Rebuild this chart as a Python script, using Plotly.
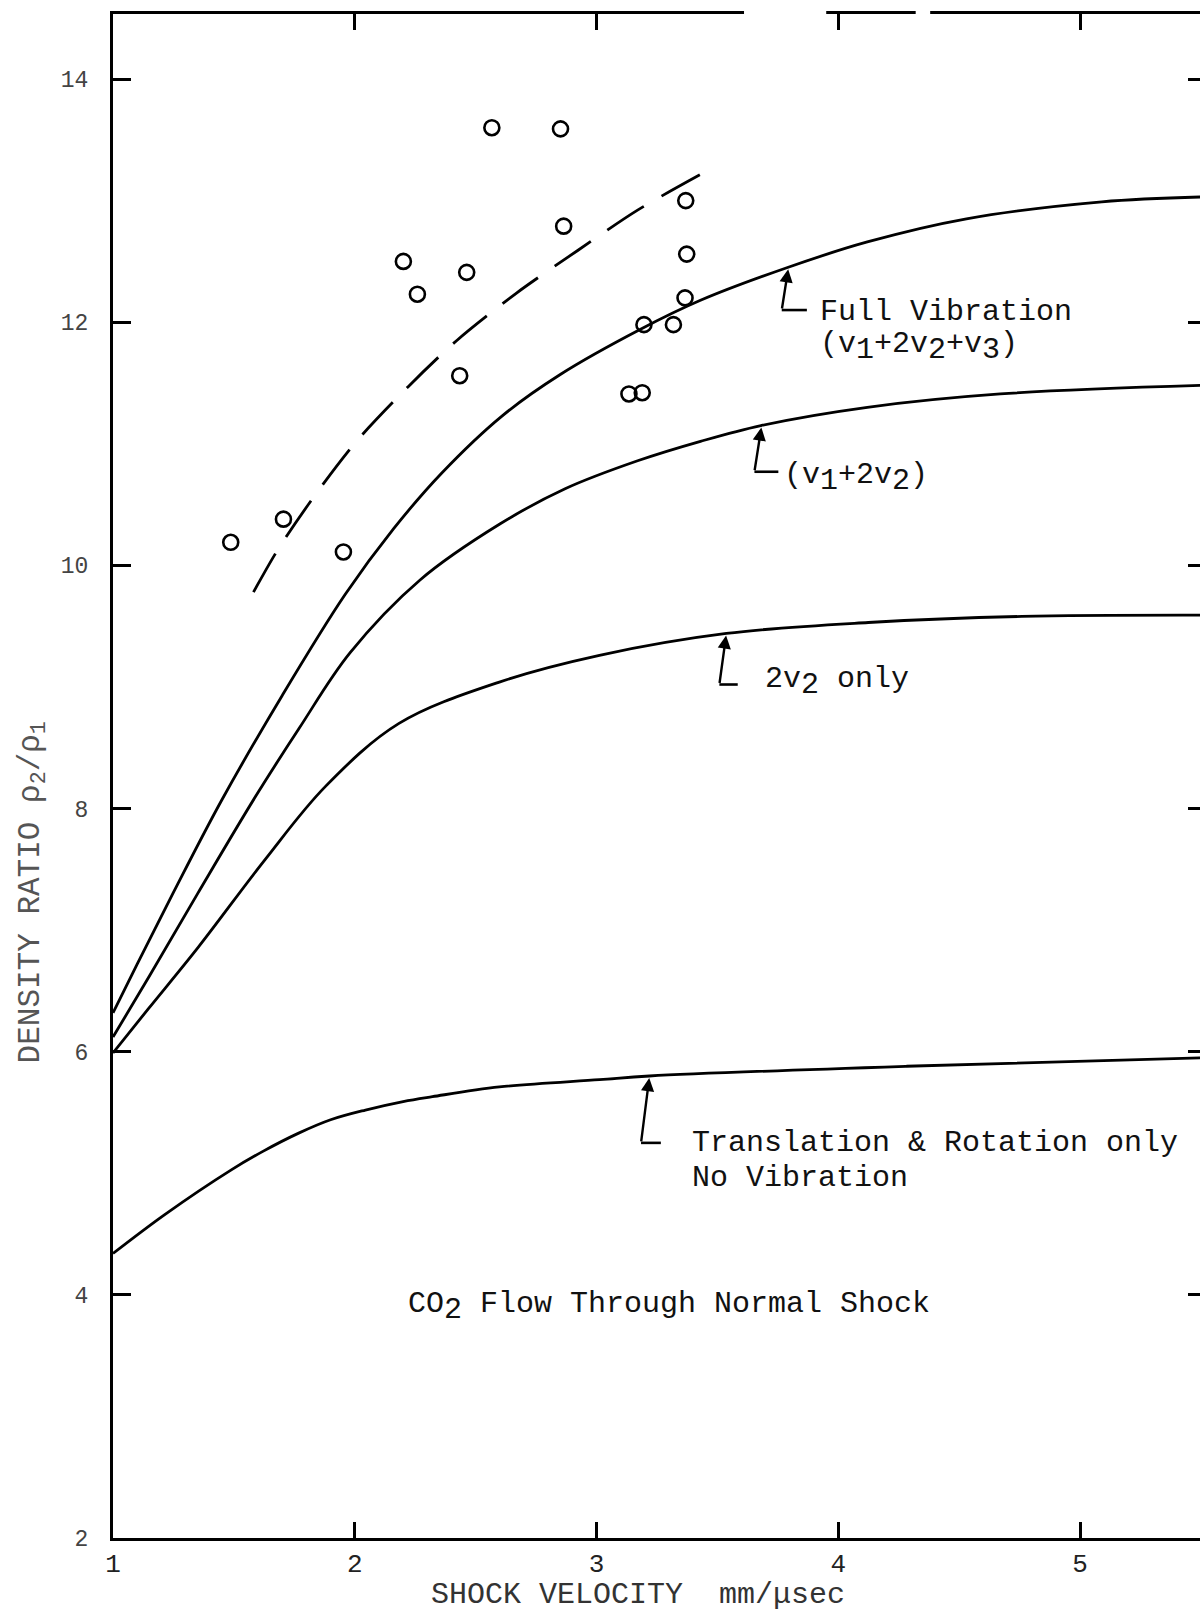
import numpy as np
import plotly.graph_objects as go

# ---------------- data ----------------
full_vib_x = [1.0, 1.1, 1.25, 1.45, 1.7, 1.96, 2.16, 2.36, 2.61, 2.85, 3.18, 3.43, 3.79, 4.12, 4.53, 5.09, 5.5]
full_vib_y = [6.32, 6.72, 7.31, 8.07, 8.93, 9.76, 10.30, 10.76, 11.23, 11.57, 11.94, 12.18, 12.45, 12.66, 12.85, 12.99, 13.03]

v12_x = [1.0, 1.15, 1.35, 1.59, 1.77, 1.98, 2.27, 2.6, 2.87, 3.17, 3.43, 3.68, 4.12, 4.67, 5.5]
v12_y = [6.12, 6.62, 7.30, 8.10, 8.66, 9.28, 9.88, 10.34, 10.63, 10.86, 11.02, 11.15, 11.30, 11.41, 11.48]

v2_x = [1.0, 1.145, 1.353, 1.629, 1.878, 2.183, 2.598, 3.012, 3.537, 4.124, 4.759, 5.5]
v2_y = [5.99, 6.35, 6.86, 7.58, 8.18, 8.70, 9.04, 9.26, 9.44, 9.53, 9.58, 9.59]

trans_x = [1.0, 1.214, 1.491, 1.62, 1.768, 1.9, 2.044, 2.2, 2.321, 2.598, 3.012, 3.219, 4.282, 5.5]
trans_y = [4.34, 4.66, 5.03, 5.18, 5.33, 5.44, 5.52, 5.59, 5.63, 5.71, 5.77, 5.80, 5.88, 5.95]

dash_x = [1.581, 1.682, 1.833, 2.007, 2.221, 2.422, 2.669, 2.922, 3.168, 3.434]
dash_y = [9.78, 10.13, 10.57, 11.02, 11.47, 11.85, 12.24, 12.59, 12.92, 13.22]

exp_x = [1.487, 1.705, 1.953, 2.201, 2.259, 2.463, 2.434, 2.567, 2.851, 2.864,
         3.134, 3.189, 3.196, 3.318, 3.369, 3.373, 3.366]
exp_y = [10.19, 10.38, 10.11, 12.50, 12.23, 12.41, 11.56, 13.60, 13.59, 12.79,
         11.41, 11.42, 11.98, 11.98, 13.00, 12.56, 12.20]

x_ticks = [1, 2, 3, 4, 5]
y_ticks = [2, 4, 6, 8, 10, 12, 14]
y_ticks_right = [4, 6, 8, 10, 12, 14]

# breaks in the scanned top frame line (x data units)
top_gaps = [(3.61, 3.95), (4.32, 4.38)]

FONT = "Liberation Mono, Courier New, monospace"
LW = 2.8
X_RANGE = [1, 5.496]
Y_RANGE = [2, 14.535]
LABEL_SIZE = 30

fig = go.Figure()

for xs, ys in [(full_vib_x, full_vib_y), (v12_x, v12_y), (v2_x, v2_y), (trans_x, trans_y)]:
    fig.add_trace(go.Scatter(x=xs, y=ys, mode="lines",
                             line=dict(color="black", width=LW, shape="spline", smoothing=1.0),
                             showlegend=False, hoverinfo="skip"))

fig.add_trace(go.Scatter(x=dash_x, y=dash_y, mode="lines",
                         line=dict(color="black", width=LW, dash="44px,20px", shape="spline", smoothing=0.8),
                         showlegend=False, hoverinfo="skip"))

fig.add_trace(go.Scatter(x=exp_x, y=exp_y, mode="markers",
                         marker=dict(symbol="circle-open", size=15, color="black",
                                     line=dict(width=2.6, color="black")),
                         showlegend=False))

# trace on right axis (for mirrored inner ticks)
fig.add_trace(go.Scatter(x=[None], y=[None], yaxis="y2", showlegend=False, hoverinfo="skip"))

# ---------------- leaders & labels ----------------
def leader(curve_x, curve_y, tip_x, corner_x, corner_y, foot_x):
    tip_y = float(np.interp(tip_x, curve_x, curve_y))
    fig.add_annotation(x=tip_x, y=tip_y, ax=corner_x, ay=corner_y, axref="x", ayref="y",
                       xref="x", yref="y", text="", showarrow=True, arrowhead=2, arrowsize=1.1,
                       arrowwidth=2.4, arrowcolor="black", standoff=2)
    fig.add_shape(type="line", x0=corner_x, y0=corner_y, x1=foot_x, y1=corner_y,
                  xref="x", yref="y", line=dict(color="black", width=2.6))

def label(x, y, text, size=LABEL_SIZE):
    fig.add_annotation(x=x, y=y, xref="x", yref="y", text=text, showarrow=False,
                       xanchor="left", yanchor="middle", font=dict(family=FONT, size=size, color="#111"))

S = '<sub><span style="font-size:%dpx">%%s</span></sub>' % LABEL_SIZE

leader(full_vib_x, full_vib_y, 3.794, 3.766, 12.10, 3.870)
label(3.918, 12.08, "Full Vibration")
label(3.918, 11.80, "(v" + S % "1" + "+2v" + S % "2" + "+v" + S % "3" + ")")

leader(v12_x, v12_y, 3.683, 3.653, 10.77, 3.752)
label(3.766, 10.72, "(v" + S % "1" + "+2v" + S % "2" + ")")

leader(v2_x, v2_y, 3.537, 3.508, 9.02, 3.584)
label(3.687, 9.04, "2v" + S % "2" + " only")

leader(trans_x, trans_y, 3.219, 3.184, 5.25, 3.266)
label(3.386, 5.245, "Translation & Rotation only")
label(3.386, 4.965, "No Vibration")

label(2.212, 3.90, "CO" + S % "2" + " Flow Through Normal Shock")

# axis titles
fig.add_annotation(x=3.172, y=-0.0374, xref="x", yref="paper", text="SHOCK VELOCITY  mm/\u03bcsec",
                   showarrow=False, xanchor="center", yanchor="middle",
                   font=dict(family=FONT, size=30, color="#333"))
fig.add_annotation(x=-0.0736, y=7.31, xref="paper", yref="y",
                   text="DENSITY RATIO \u03c1<sub>2</sub>/\u03c1<sub>1</sub>",
                   showarrow=False, textangle=-90, xanchor="center", yanchor="middle",
                   font=dict(family=FONT, size=31, color="#555"))

# gaps in the top frame line
for g0, g1 in top_gaps:
    fig.add_shape(type="rect", x0=g0, x1=g1, y0=0.9965, y1=1.0035, xref="x", yref="paper",
                  fillcolor="white", line=dict(width=0), layer="above")

fig.update_layout(
    width=1200, height=1613,
    margin=dict(l=113, r=0, t=14, b=75),
    paper_bgcolor="white", plot_bgcolor="white",
    showlegend=False,
    xaxis=dict(range=X_RANGE, tickvals=x_ticks, ticktext=[str(v) for v in x_ticks],
               ticks="inside", ticklen=16, tickwidth=3, tickcolor="black",
               showline=True, linewidth=3, linecolor="black", mirror="ticks",
               showgrid=False, zeroline=False, ticklabelstandoff=0,
               tickfont=dict(family=FONT, size=26, color="#222")),
    yaxis=dict(range=Y_RANGE, tickvals=y_ticks, ticktext=[str(v) for v in y_ticks],
               ticks="inside", ticklen=18, tickwidth=3, tickcolor="black",
               showline=True, linewidth=3, linecolor="black",
               showgrid=False, zeroline=False, ticklabelstandoff=17,
               tickfont=dict(family=FONT, size=23, color="#444")),
    yaxis2=dict(range=Y_RANGE, overlaying="y", side="right", anchor="x",
                tickvals=y_ticks_right, ticks="inside", ticklen=12, tickwidth=3, tickcolor="black",
                showline=False, showticklabels=False, showgrid=False, zeroline=False),
)

# remove the page's default 8px body margin so the figure fills the window exactly
fig.write_html("out.html",
               config={"displayModeBar": False},
               post_script="document.body.style.margin='0';document.body.style.overflow='hidden';")
